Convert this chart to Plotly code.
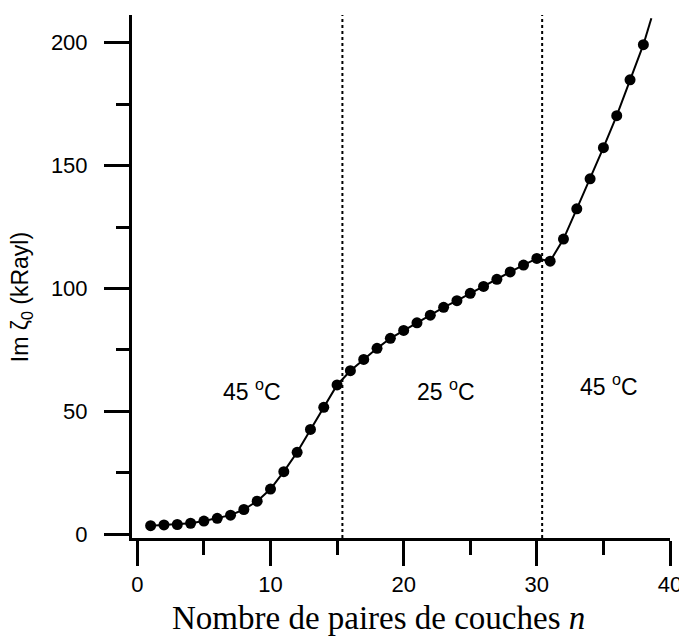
import plotly.graph_objects as go

# Data
n_pairs = list(range(1, 39))
im_zeta = [3.4, 3.7, 3.9, 4.4, 5.3, 6.4, 7.7, 10.0, 13.4, 18.3, 25.4, 33.3, 42.6, 51.6,
           60.7, 66.5, 71.1, 75.6, 79.7, 82.9, 86.0, 89.1, 92.3, 95.0, 98.0, 100.8,
           103.7, 106.7, 109.5, 112.2,
           111.1, 120.1, 132.4, 144.6, 157.3, 170.3, 184.9, 199.2]
tail_n = [38, 38.6]
tail_v = [199.2, 210.0]
boundaries = [15.4, 30.4]
region_labels = ["45 <sup>o</sup>C", "25 <sup>o</sup>C", "45 <sup>o</sup>C"]
region_x = [8.6, 23.2, 35.4]
region_y = [58.5, 58.5, 60.5]
x_ticks = [0, 10, 20, 30, 40]
y_ticks = [0, 50, 100, 150, 200]

fig = go.Figure()
fig.add_trace(go.Scatter(x=tail_n, y=tail_v, mode="lines",
                         line=dict(color="black", width=2), showlegend=False))
fig.add_trace(go.Scatter(x=n_pairs, y=im_zeta, mode="lines+markers",
                         line=dict(color="black", width=2),
                         marker=dict(color="black", size=11),
                         showlegend=False))

for b in boundaries:
    fig.add_shape(type="line", x0=b, x1=b, y0=0, y1=1, xref="x", yref="paper",
                  line=dict(color="black", width=2, dash="dot"))

for t, xv, yv in zip(region_labels, region_x, region_y):
    fig.add_annotation(x=xv, y=yv, text=t, showarrow=False,
                       xanchor="center", yanchor="middle",
                       font=dict(family="Liberation Sans, Arial", size=23, color="black"))

fig.add_annotation(xref="paper", yref="paper", x=-0.205, y=0.46,
                   xanchor="center", yanchor="middle",
                   text="Im ζ<sub>0</sub> (kRayl)", textangle=-90, showarrow=False,
                   font=dict(family="Liberation Sans, Arial", size=23, color="black"))
fig.add_annotation(xref="paper", yref="paper", x=0.459, y=-0.153,
                   xanchor="center", yanchor="middle",
                   text="Nombre de paires de couches <i>n</i>", showarrow=False,
                   font=dict(family="Liberation Serif, Times New Roman", size=33, color="black"))

axis_common = dict(showgrid=False, zeroline=False, showline=True, linecolor="black",
                   linewidth=3, ticks="outside", tickwidth=3, tickcolor="black", ticklen=25,
                   automargin=False,
                   tickfont=dict(family="Liberation Sans, Arial", size=22, color="black"))

fig.update_xaxes(range=[-0.4, 40], tickvals=x_ticks, ticktext=[str(v) for v in x_ticks],
                 minor=dict(tickvals=[5, 15, 25, 35], ticks="outside", ticklen=14,
                            tickwidth=3, tickcolor="black", showgrid=False),
                 ticklabelstandoff=0, **axis_common)
fig.update_yaxes(range=[-1.6, 211.3], tickvals=y_ticks, ticktext=[str(v) for v in y_ticks],
                 minor=dict(tickvals=[25, 75, 125, 175], ticks="outside", ticklen=13,
                            tickwidth=3, tickcolor="black", showgrid=False),
                 ticklabelstandoff=12, **axis_common)

# The page body adds an 8 px offset, so margins are shifted to compensate
fig.update_layout(width=687, height=639, plot_bgcolor="white", paper_bgcolor="white",
                  margin=dict(l=124, r=25, t=7, b=109), showlegend=False)

fig.write_html("out.html")
